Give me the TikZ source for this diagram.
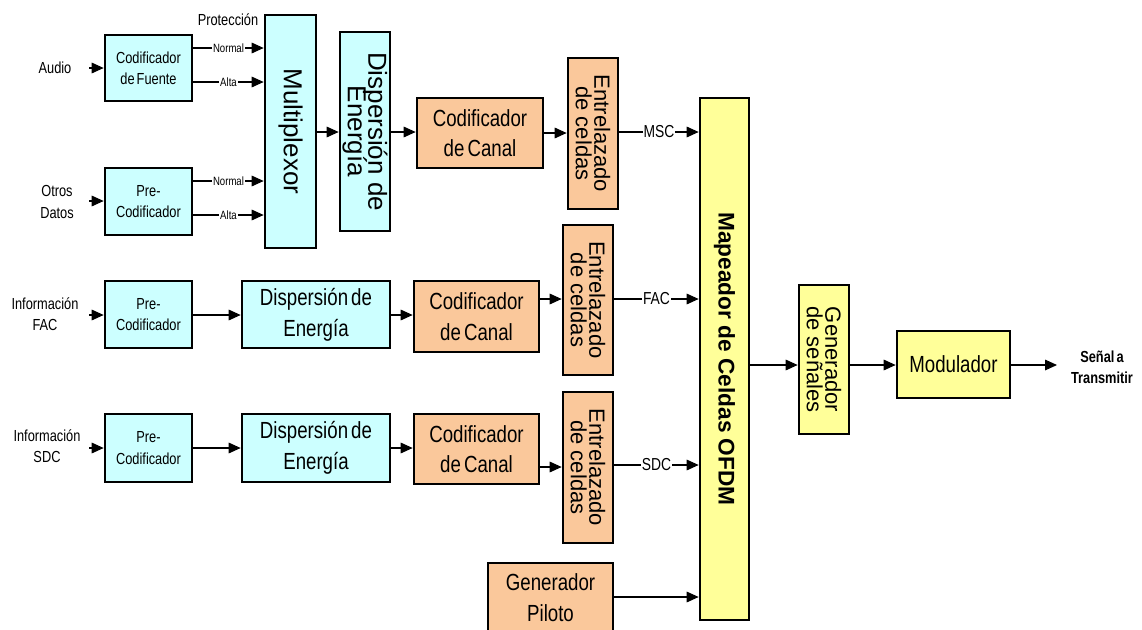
\documentclass[tikz,border=0pt]{standalone}
\usepackage{fontspec}
\setmainfont{Liberation Sans}
\newfontfamily\narf[FakeStretch=0.8,WordSpace=0.6]{Liberation Sans}
\usetikzlibrary{arrows.meta,fit}
\definecolor{cy}{RGB}{204,255,255}
\definecolor{peach}{RGB}{250,200,155}
\definecolor{yel}{RGB}{255,255,153}
\newcommand\fbig{\narf\fontsize{17.5pt}{23pt}\selectfont}
\newcommand\fsmall{\narf\fontsize{12pt}{16pt}\selectfont}
\newcommand\ftiny{\narf\fontsize{9pt}{10pt}\selectfont}
\newcommand\fmid{\narf\fontsize{13pt}{15pt}\selectfont}
\newcommand\fvert{\fontsize{19.5pt}{15.5pt}\selectfont\lineskiplimit=-50pt\relax}
\newcommand\fvsm{\fontsize{16.5pt}{14pt}\selectfont\lineskiplimit=-50pt\relax}
\newcommand\fmap{\bfseries\fontsize{17pt}{20pt}\selectfont}
\newcommand\fout{\narf\bfseries\fontsize{12pt}{15.5pt}\selectfont}
\begin{document}
\begin{tikzpicture}[x=0.75pt,y=-0.75pt,
  box/.style={draw, line width=2pt, inner sep=0pt},
  cbox/.style={box, fill=cy},
  pbox/.style={box, fill=peach},
  ybox/.style={box, fill=yel},
  arr/.style={-{Triangle[length=9pt,width=8pt]}, line width=0.8pt},
  lbl/.style={fill=white, inner sep=0.8pt},
  vt/.style={rotate=-90, align=center, inner sep=0pt},
  ht/.style={align=center, inner sep=0pt},
  inl/.style={font=\fsmall, align=center, inner sep=0pt}]
\useasboundingbox (0,0) rectangle (1142,629);
\clip (0,0) rectangle (1142,629);

% boxes
\node[cbox, fit={(105,35)(192,101)}] (cf) {};
\node[ht, font=\fsmall] (cfT) at (cf.center) {Codificador\\de Fuente};
\node[cbox, fit={(105,168)(192,235)}] (pc1) {};
\node[ht, font=\fsmall] (pc1T) at (pc1.center) {Pre-\\Codificador};
\node[cbox, fit={(265,15)(316,248)}] (mux) {};
\node[vt, font=\fvert] (muxT) at (mux.center) {Multiplexor};
\node[cbox, fit={(340,32)(390,231)}] (de1) {};
\node[vt, font=\fvert] (de1T) at (de1.center) {Dispersión de\\Energía};
\node[pbox, fit={(417,98)(543,168)}] (cc1) {};
\node[ht, font=\fbig] (cc1T) at (cc1.center) {Codificador\\de Canal};
\node[pbox, fit={(568,58)(618,209)}] (en1) {};
\node[vt, font=\fvsm] (en1T) at (en1.center) {Entrelazado\\de celdas};
\node[ybox, fit={(700,98)(749,620)}] (map) {};
\node[vt, font=\fmap] (mapT) at (map.center) {Mapeador de Celdas OFDM};

\node[cbox, fit={(105,281)(192,348)}] (pc2) {};
\node[ht, font=\fsmall] (pc2T) at (pc2.center) {Pre-\\Codificador};
\node[cbox, fit={(242,281)(390,348)}] (de2) {};
\node[ht, font=\fbig] (de2T) at (de2.center) {Dispersión de\\Energía};
\node[pbox, fit={(414,281)(539,352)}] (cc2) {};
\node[ht, font=\fbig] (cc2T) at (cc2.center) {Codificador\\de Canal};
\node[pbox, fit={(563,225)(613,375)}] (en2) {};
\node[vt, font=\fvsm] (en2T) at (en2.center) {Entrelazado\\de celdas};

\node[cbox, fit={(105,414)(192,482)}] (pc3) {};
\node[ht, font=\fsmall] (pc3T) at (pc3.center) {Pre-\\Codificador};
\node[cbox, fit={(242,414)(390,482)}] (de3) {};
\node[ht, font=\fbig] (de3T) at (de3.center) {Dispersión de\\Energía};
\node[pbox, fit={(414,414)(539,484)}] (cc3) {};
\node[ht, font=\fbig] (cc3T) at (cc3.center) {Codificador\\de Canal};
\node[pbox, fit={(563,392)(613,543)}] (en3) {};
\node[vt, font=\fvsm] (en3T) at (en3.center) {Entrelazado\\de celdas};

\node[pbox, fit={(488,563)(613,632)}] (pil) {};
\node[ht, font=\fbig] (pilT) at (pil.center) {Generador\\Piloto};
\node[ybox, fit={(799,285)(849,434)}] (gen) {};
\node[vt, font=\fvsm] (genT) at (gen.center) {Generador\\de señales};
\node[ybox, fit={(897,331)(1010,398)}] (mod) {};
\node[ht, font=\fbig] (modT) at (mod.center) {Modulador};

% labels
\node[inl] (audio) at (55,68) {Audio};
\node[inl] (otros) at (57,202) {Otros\\Datos};
\node[inl] (prot) at (228,20) {Protección};
\node[inl] (ifac) at (45,314) {Información\\FAC};
\node[inl] (isdc) at (47,446) {Información\\SDC};
\node[font=\fout, align=center, inner sep=0pt] (senal) at (1102,367) {Señal a\\Transmitir};

% coordinates
\coordinate (a0) at (89,68);
\coordinate (o0) at (89,201);
\coordinate (f0) at (89,315);
\coordinate (s0) at (89,448);
\coordinate (n1) at (0,48);
\coordinate (h1) at (0,82);
\coordinate (n2) at (0,181);
\coordinate (h2) at (0,215);
\coordinate (r1) at (0,132);
\coordinate (r1b) at (0,133);
\coordinate (rf) at (0,315);
\coordinate (rf2) at (0,299);
\coordinate (rs) at (0,448);
\coordinate (rs2) at (0,467);
\coordinate (rs3) at (0,465);
\coordinate (rp) at (0,597);
\coordinate (ro) at (0,365);
\coordinate (out) at (1057,365);

% connectors
\draw[arr] (a0) -- (cf.west |- a0);
\draw[arr] (o0) -- (pc1.west |- o0);
\draw[arr] (f0) -- (pc2.west |- f0);
\draw[arr] (s0) -- (pc3.west |- s0);
\draw[arr] (cf.east |- n1) -- node[lbl, font=\ftiny]{Normal} (mux.west |- n1);
\draw[arr] (cf.east |- h1) -- node[lbl, font=\ftiny]{Alta} (mux.west |- h1);
\draw[arr] (pc1.east |- n2) -- node[lbl, font=\ftiny]{Normal} (mux.west |- n2);
\draw[arr] (pc1.east |- h2) -- node[lbl, font=\ftiny]{Alta} (mux.west |- h2);
\draw[arr] (mux.east |- r1) -- (de1.west |- r1);
\draw[arr] (de1.east |- r1) -- (cc1.west |- r1);
\draw[arr] (cc1.east |- r1b) -- (en1.west |- r1b);
\draw[arr] (en1.east |- r1) -- node[lbl, font=\fmid]{MSC} (map.west |- r1);

\draw[arr] (pc2.east |- rf) -- (de2.west |- rf);
\draw[arr] (de2.east |- rf) -- (cc2.west |- rf);
\draw[arr] (cc2.east |- rf2) -- (en2.west |- rf2);
\draw[arr] (en2.east |- rf2) -- node[lbl, font=\fmid]{FAC} (map.west |- rf2);

\draw[arr] (pc3.east |- rs) -- (de3.west |- rs);
\draw[arr] (de3.east |- rs) -- (cc3.west |- rs);
\draw[arr] (cc3.east |- rs2) -- (en3.west |- rs2);
\draw[arr] (en3.east |- rs3) -- node[lbl, font=\fmid]{SDC} (map.west |- rs3);

\draw[arr] (pil.east |- rp) -- (map.west |- rp);
\draw[arr] (map.east |- ro) -- (gen.west |- ro);
\draw[arr] (gen.east |- ro) -- (mod.west |- ro);
\draw[arr] (mod.east |- ro) -- (out);
\end{tikzpicture}
\end{document}
